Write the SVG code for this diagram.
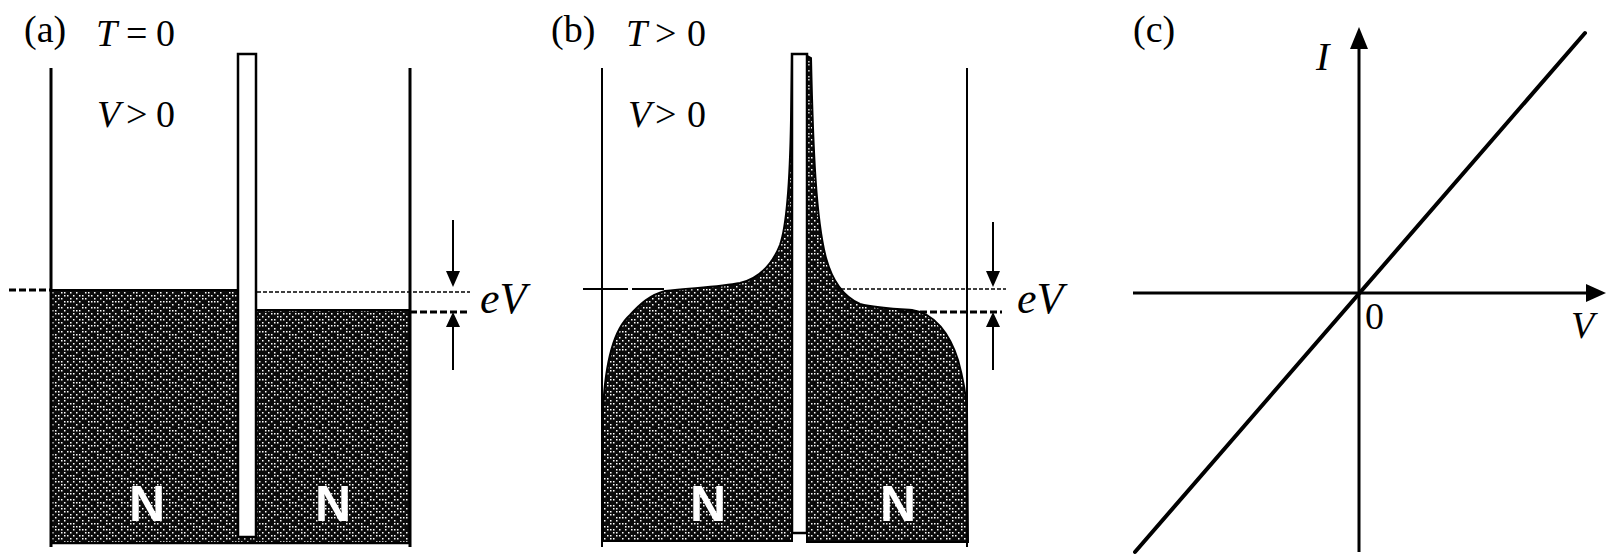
<svg xmlns="http://www.w3.org/2000/svg" width="1606" height="557" viewBox="0 0 1606 557">
<style>
.ln{stroke:#000;fill:none}
.wall{stroke:#000;stroke-width:3;fill:none}
.wallb{stroke:#000;stroke-width:2;fill:none}
.bar{fill:#fff;stroke:#000;stroke-width:2.5}
.txt{font-family:"Liberation Serif","Times New Roman",serif;fill:#000}
.it{font-style:italic}
.nlab{font-family:"Liberation Sans",Arial,sans-serif;font-weight:bold;font-size:50px;fill:#fff;text-anchor:middle}
.dthin{stroke:#000;stroke-width:1.3;stroke-dasharray:4 2;fill:none}
.dthick{stroke:#000;stroke-width:2.8;stroke-dasharray:7 3;fill:none}
.arr{stroke:#000;stroke-width:2;fill:none}
.head{fill:#000}
.ax{stroke:#000;stroke-width:3;fill:none}
.tex{fill:url(#tex)}
</style>
<defs>
<pattern id="tex" width="24" height="24" patternUnits="userSpaceOnUse">
<rect width="24" height="24" fill="#0b0b0b"/>
<path fill="#fff" d="M1 1h1.5v1.5h-1.5zM7 1h1.5v1.5h-1.5zM10 1h1.5v1.5h-1.5zM13 1h1.5v1.5h-1.5zM19 1h1.5v1.5h-1.5zM4 4h1.5v1.5h-1.5zM13 4h1.5v1.5h-1.5zM16 4h1.5v1.5h-1.5zM22 4h1.5v1.5h-1.5zM1 7h1.5v1.5h-1.5zM7 7h1.5v1.5h-1.5zM10 7h1.5v1.5h-1.5zM16 7h1.5v1.5h-1.5zM19 7h1.5v1.5h-1.5zM4 10h1.5v1.5h-1.5zM10 10h1.5v1.5h-1.5zM13 10h1.5v1.5h-1.5zM22 10h1.5v1.5h-1.5zM1 13h1.5v1.5h-1.5zM7 13h1.5v1.5h-1.5zM16 13h1.5v1.5h-1.5zM19 13h1.5v1.5h-1.5zM22 13h1.5v1.5h-1.5zM4 16h1.5v1.5h-1.5zM10 16h1.5v1.5h-1.5zM16 16h1.5v1.5h-1.5zM1 19h1.5v1.5h-1.5zM10 19h1.5v1.5h-1.5zM13 19h1.5v1.5h-1.5zM19 19h1.5v1.5h-1.5zM22 19h1.5v1.5h-1.5zM1 22h1.5v1.5h-1.5zM4 22h1.5v1.5h-1.5zM7 22h1.5v1.5h-1.5zM16 22h1.5v1.5h-1.5z"/>
</pattern>
</defs>

<g id="panel-a">
<g id="a-fill">
<rect class="tex" x="51" y="290" width="196" height="253"/>
<rect class="tex" x="247" y="310" width="163" height="233"/>
<line class="ln" x1="51" y1="290" x2="237" y2="290" stroke-width="2"/>
<line class="ln" x1="257" y1="310" x2="410" y2="310" stroke-width="2"/>
<line class="ln" x1="51" y1="543" x2="410" y2="543" stroke-width="2.5"/>
</g>
<g id="a-walls">
<line class="wall" x1="51" y1="68" x2="51" y2="547"/>
<line class="wall" x1="410" y1="68" x2="410" y2="547"/>
</g>
<rect id="a-barrier" class="bar" x="238" y="54" width="18" height="483"/>
<g id="a-levels">
<line class="dthick" x1="9" y1="290" x2="51" y2="290" stroke-width="2"/>
<line class="dthin" x1="257" y1="292" x2="470" y2="292"/>
<line class="dthick" x1="410" y1="312" x2="470" y2="312"/>
</g>
<g id="a-arrows">
<line class="arr" x1="453" y1="220" x2="453" y2="275"/>
<polygon class="head" points="446,271 460,271 453,287"/>
<line class="arr" x1="453" y1="370" x2="453" y2="324"/>
<polygon class="head" points="446,327 460,327 453,312"/>
</g>
<g id="a-labels">
<text class="txt" x="24" y="42" font-size="38">(a)</text>
<text class="txt" font-size="38" y="46"><tspan class="it" x="96">T</tspan><tspan x="126">=</tspan><tspan x="156">0</tspan></text>
<text class="txt" font-size="38" y="127"><tspan class="it" x="97">V</tspan><tspan x="126">&gt;</tspan><tspan x="156">0</tspan></text>
<text class="txt it" x="480" y="313" font-size="44">eV</text>
<text class="nlab" x="147" y="521">N</text>
<text class="nlab" x="333" y="521">N</text>
</g>
</g>

<g id="panel-b">
<g id="b-fill">
<path class="tex" d="M603,541 L603,410 C605,368 613,330 630,315 C640,304 650,295 665,291 C690,288 720,287 740,283 C760,278 772,265 780,245 C787,225 790,180 791,120 L792,56 L792,541 Z" stroke="#000" stroke-width="2"/>
<path class="tex" d="M807,56 L811,58 C813,150 816,220 826,258 C832,280 842,296 860,304 C875,308 895,309 912,310 C935,313 950,335 958,360 C963,378 966,395 967,410 L968,542 L807,542 Z" stroke="#000" stroke-width="2"/>
</g>
<g id="b-walls">
<line class="wallb" x1="602" y1="68" x2="602" y2="547"/>
<line class="wallb" x1="967" y1="68" x2="967" y2="547"/>
</g>
<rect id="b-barrier" class="bar" x="792" y="54" width="15" height="479"/>
<g id="b-levels">
<line class="ln" x1="583" y1="289" x2="628" y2="289" stroke-width="2"/>
<line class="ln" x1="632" y1="289" x2="664" y2="289" stroke-width="2"/>
<line class="dthin" x1="835" y1="289" x2="1006" y2="289"/>
<line class="dthick" x1="900" y1="312" x2="1002" y2="312"/>
</g>
<g id="b-arrows">
<line class="arr" x1="993" y1="222" x2="993" y2="275"/>
<polygon class="head" points="986,271 1000,271 993,287"/>
<line class="arr" x1="993" y1="370" x2="993" y2="324"/>
<polygon class="head" points="986,327 1000,327 993,312"/>
</g>
<g id="b-labels">
<text class="txt" x="551" y="42" font-size="38">(b)</text>
<text class="txt" font-size="38" y="46"><tspan class="it" x="626">T</tspan><tspan x="655">&gt;</tspan><tspan x="687">0</tspan></text>
<text class="txt" font-size="38" y="127"><tspan class="it" x="628">V</tspan><tspan x="655">&gt;</tspan><tspan x="687">0</tspan></text>
<text class="txt it" x="1017" y="313" font-size="44">eV</text>
<text class="nlab" x="708" y="521">N</text>
<text class="nlab" x="898" y="521">N</text>
</g>
</g>

<g id="panel-c">
<g id="c-axes">
<line class="ax" x1="1133" y1="293" x2="1588" y2="293"/>
<polygon class="head" points="1586,284 1606,293 1586,302"/>
<line class="ax" x1="1359" y1="552" x2="1359" y2="47"/>
<polygon class="head" points="1350,49 1359,27 1368,49"/>
</g>
<line id="c-iv" class="ln" x1="1135" y1="552" x2="1585" y2="33" stroke-width="4" stroke-linecap="round"/>
<g id="c-labels">
<text class="txt" x="1133" y="42" font-size="38">(c)</text>
<text class="txt it" x="1316" y="70" font-size="40">I</text>
<text class="txt" x="1365" y="329" font-size="38">0</text>
<text class="txt it" x="1571" y="338" font-size="38">V</text>
</g>
</g>
</svg>
